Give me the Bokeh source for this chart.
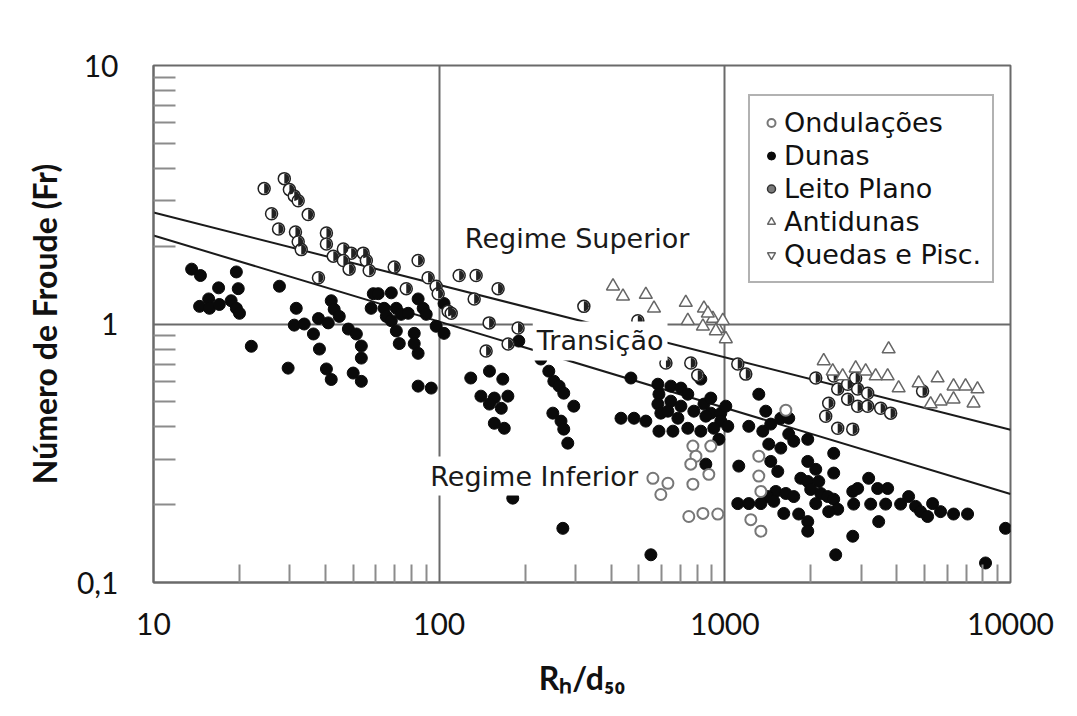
import numpy as np
from bokeh.plotting import figure
from bokeh.models import FixedTicker, Range1d, Label, Legend, LegendItem
from bokeh.embed import file_html
from bokeh.resources import INLINE

# ---------------- data ----------------
x_tick_values = [10, 100, 1000, 10000]
x_tick_labels = ["10", "100", "1000", "10000"]
y_tick_values = [0.1, 1, 10]
y_tick_labels = ["0,1", "1", "10"]
x_minor = [20, 30, 40, 50, 60, 70, 80, 90, 200, 300, 400, 500, 600, 700, 800, 900,
           2000, 3000, 4000, 5000, 6000, 7000, 8000, 9000]
y_minor = [0.2, 0.3, 0.4, 0.5, 0.6, 0.7, 0.8, 0.9, 2, 3, 4, 5, 6, 7, 8, 9]

series_names = ["Ondulações", "Dunas", "Leito Plano", "Antidunas", "Quedas e Pisc."]

ond_x = [773, 893, 792, 760, 879, 632, 597, 773, 560, 748, 838, 945, 1315, 1315, 1337, 1233, 1337, 1635]
ond_y = [0.337, 0.337, 0.308, 0.287, 0.262, 0.242, 0.219, 0.240, 0.253, 0.180, 0.185, 0.184,
         0.308, 0.258, 0.225, 0.175, 0.158, 0.464]

dun_x = [13.6, 14.6, 19.5, 16.9, 19.8, 15.6, 14.5, 15.7, 17.0, 18.7,
         19.5, 20.0, 27.6, 31.6, 31.1, 33.7, 36.3, 37.8, 40.9, 41.9,
         42.9, 44.7, 22.0, 38.1, 29.6, 40.3, 41.9, 48.1, 51.3, 53.4,
         53.4, 50.0, 53.4, 58.8, 61.2, 57.8, 64.2, 68.0, 65.3, 68.0,
         70.8, 73.6, 77.9, 70.8, 72.5, 81.8, 81.8, 84.4, 84.4, 87.9,
         90.1, 97.6, 84.4, 93.8, 104, 104, 129, 150, 167, 140,
         156, 174, 150, 165, 156, 169, 190, 227, 242, 252,
         263, 273, 296, 250, 267, 273, 282, 181, 271, 551,
         469, 433, 481, 529, 588, 658, 583, 588, 583, 597,
         647, 702, 742, 647, 702, 632, 685, 742, 824, 779,
         845, 893, 893, 968, 968, 915, 953, 858, 858, 824,
         1008, 1024, 1315, 1213, 1119, 1391, 1358, 1448, 1570, 1674,
         1674, 1743, 1951, 1425, 1570, 1448, 1532, 2405, 2405, 1951,
         2081, 1845, 1951, 2132, 1998, 2167, 2291, 2405, 2484, 2310,
         1508, 1635, 1743, 1413, 1110, 1213, 1337, 1484, 1608, 1814,
         1951, 1951, 2081, 2804, 3188, 2917, 3428, 3715, 2825, 3240,
         3656, 4124, 4399, 4654, 4845, 5126, 5337, 5691, 6319, 7075,
         3456, 2804, 2444, 9605, 8177]
dun_y = [1.63, 1.54, 1.59, 1.38, 1.37, 1.25, 1.17, 1.15, 1.19, 1.23,
         1.15, 1.10, 1.40, 1.15, 0.99, 1.00, 0.915, 1.05, 1.01, 1.23,
         1.14, 1.07, 0.82, 0.80, 0.675, 0.67, 0.61, 0.956, 0.915, 0.822,
         0.738, 0.646, 0.60, 1.31, 1.31, 1.15, 1.15, 1.32, 1.07, 1.03,
         1.15, 1.09, 1.10, 0.94, 0.84, 0.92, 0.84, 0.77, 1.25, 1.15,
         1.09, 0.98, 0.575, 0.565, 1.20, 0.92, 0.618, 0.657, 0.612, 0.526,
         0.517, 0.526, 0.49, 0.472, 0.413, 0.395, 0.859, 0.732, 0.657, 0.601,
         0.575, 0.54, 0.481, 0.452, 0.421, 0.392, 0.346, 0.212, 0.162, 0.128,
         0.618, 0.432, 0.432, 0.421, 0.385, 0.385, 0.585, 0.535, 0.49, 0.452,
         0.575, 0.565, 0.535, 0.503, 0.481, 0.46, 0.432, 0.395, 0.385, 0.46,
         0.49, 0.452, 0.517, 0.452, 0.421, 0.395, 0.358, 0.287, 0.44, 0.612,
         0.481, 0.402, 0.535, 0.402, 0.282, 0.46, 0.385, 0.41, 0.432, 0.432,
         0.375, 0.352, 0.358, 0.343, 0.331, 0.294, 0.269, 0.316, 0.265, 0.294,
         0.274, 0.253, 0.246, 0.246, 0.229, 0.221, 0.215, 0.21, 0.192, 0.188,
         0.225, 0.221, 0.215, 0.215, 0.202, 0.202, 0.202, 0.206, 0.185, 0.184,
         0.172, 0.158, 0.202, 0.225, 0.253, 0.231, 0.231, 0.231, 0.201, 0.201,
         0.201, 0.201, 0.215, 0.197, 0.188, 0.18, 0.202, 0.188, 0.184, 0.184,
         0.172, 0.151, 0.128, 0.162, 0.119]

leito_x = [28.7, 24.4, 29.9, 31.1, 32.1, 25.9, 34.8, 27.4, 31.4, 32.1,
           32.9, 40.3, 40.3, 42.6, 46.2, 49.2, 46.2, 48.4, 54.2, 55.6,
           56.9, 37.8, 69.6, 84.4, 91.5, 97.6, 76.7, 99.2, 107.5, 117.5,
           134.7, 160.8, 132.6, 110.2, 149.6, 188.9, 174.3, 146.0,
           321, 496, 622, 760, 804, 1110, 1184,
           2081, 2405, 2484, 2692, 2871, 2917, 3162,
           2310, 2255, 2692, 2917, 3162, 3512, 3806,
           2484, 2804, 4923]
leito_y = [3.65, 3.34, 3.31, 3.13, 3.00, 2.67, 2.65, 2.33, 2.27, 2.08,
           1.94, 2.25, 2.04, 1.83, 1.95, 1.88, 1.76, 1.63, 1.88, 1.76,
           1.61, 1.51, 1.66, 1.76, 1.51, 1.40, 1.37, 1.31, 1.12, 1.54,
           1.54, 1.37, 1.25, 1.10, 1.01, 0.965, 0.837, 0.786,
           1.17, 1.03, 0.706, 0.706, 0.634, 0.70, 0.64,
           0.618, 0.629, 0.56, 0.585, 0.618, 0.56, 0.54,
           0.494, 0.44, 0.512, 0.481, 0.481, 0.472, 0.452,
           0.395, 0.392, 0.55]

anti_x = [406, 440, 529, 565, 730, 845, 742, 838, 908, 945, 984, 1008, 872, 930,
          3745, 2219, 2386, 2585, 2871, 3112, 3373, 3715, 4059, 4768, 5556, 6319,
          6961, 7665, 6319, 5691, 7424, 5253]
anti_y = [1.40, 1.28, 1.30, 1.15, 1.21, 1.15, 1.03, 0.98, 1.05, 0.96, 1.03, 0.875, 1.10, 0.94,
          0.80, 0.72, 0.657, 0.629, 0.675, 0.657, 0.629, 0.629, 0.565, 0.591, 0.618, 0.575,
          0.575, 0.56, 0.512, 0.503, 0.494, 0.49]

# "Quedas e Pisc." has no observations in this chart (legend entry only)
queda_x = [np.nan]
queda_y = [np.nan]

# regime boundary lines (end points)
fit_x = [10, 10000]
upper_fit_y = [2.7, 0.39]
lower_fit_y = [2.2, 0.22]

region_labels = ["Regime Superior", "Transição", "Regime Inferior"]
region_x = [304, 366, 215]
region_y = [2.15, 0.86, 0.258]

x_title = "Rₕ/d₅₀"
y_title = "Número de Froude (Fr)"

# ---------------- figure ----------------
p = figure(width=1077, height=716, x_axis_type="log", y_axis_type="log",
           x_range=Range1d(10, 10000), y_range=Range1d(0.1, 10),
           output_backend="svg", toolbar_location=None,
           min_border_left=153, min_border_right=67, min_border_top=65, min_border_bottom=134)
p.background_fill_color = "white"
p.border_fill_color = "white"
p.outline_line_color = "#6a6a6a"
p.outline_line_width = 2

p.xaxis.ticker = FixedTicker(ticks=x_tick_values, minor_ticks=x_minor)
p.yaxis.ticker = FixedTicker(ticks=y_tick_values, minor_ticks=y_minor)
p.xaxis.major_label_overrides = dict(zip(x_tick_values, x_tick_labels))
p.yaxis.major_label_overrides = dict(zip(y_tick_values, y_tick_labels))

for ax in (p.xaxis[0], p.yaxis[0]):
    ax.axis_line_color = "#6a6a6a"
    ax.axis_line_width = 2
    ax.major_tick_in = 0
    ax.major_tick_out = 0
    ax.minor_tick_out = 0
    ax.minor_tick_line_color = "#8c8c8c"
    ax.minor_tick_line_width = 2
    ax.major_label_text_font = "Lato"
    ax.major_label_text_font_size = "30px"
    ax.major_label_text_color = "#111111"
    ax.axis_label_text_font = "Lato"
    ax.axis_label_text_font_style = "bold"
    ax.axis_label_text_font_size = "32px"
    ax.axis_label_text_color = "#111111"
p.xaxis.minor_tick_in = 18
p.yaxis.minor_tick_in = 22
p.xaxis.major_label_standoff = 30
p.yaxis.major_label_standoff = 35

p.yaxis.axis_label = y_title
p.yaxis.axis_label_standoff = 10
p.xaxis.axis_label = x_title
p.xaxis.axis_label_standoff = 20

p.xgrid.ticker = FixedTicker(ticks=[100, 1000])
p.ygrid.ticker = FixedTicker(ticks=[1])
p.grid.grid_line_color = "#6a6a6a"
p.grid.grid_line_width = 2
p.grid.minor_grid_line_color = None

# boundary lines
p.line(fit_x, upper_fit_y, line_color="#1a1a1a", line_width=2)
p.line(fit_x, lower_fit_y, line_color="#1a1a1a", line_width=2)

# points
r_dun = p.scatter(dun_x, dun_y, marker="circle", size=12, fill_color="#0a0a0a", line_color="#0a0a0a")
r_ond = p.scatter(ond_x, ond_y, marker="circle", size=11, fill_color="white", line_color="#777777", line_width=2)
r_leito = p.scatter(leito_x, leito_y, marker="circle", size=12, fill_color="white", line_color="#222222", line_width=1.5)
p.wedge(leito_x, leito_y, radius=5, radius_units="screen", start_angle=-np.pi / 2, end_angle=np.pi / 2,
        fill_color="#222222", line_color=None)
r_leito_leg = p.scatter(queda_x, queda_y, marker="circle", size=12, fill_color="#7a7a7a",
                        line_color="#333333", line_width=1.5)
r_anti = p.scatter(anti_x, anti_y, marker="triangle", size=13, fill_color="white", line_color="#666666", line_width=1.5)
r_queda = p.scatter(queda_x, queda_y, marker="inverted_triangle", size=12, fill_color="white",
                    line_color="#666666", line_width=1.5)

# region labels
for txt, lx, ly in zip(region_labels, region_x, region_y):
    p.add_layout(Label(x=lx, y=ly, text=txt, text_align="center", text_baseline="middle",
                       text_font="DejaVu Sans", text_font_size="27px", text_color="#1a1a1a",
                       background_fill_color="white", padding=4))

# legend
legend = Legend(items=[LegendItem(label=series_names[0], renderers=[r_ond]),
                       LegendItem(label=series_names[1], renderers=[r_dun]),
                       LegendItem(label=series_names[2], renderers=[r_leito_leg]),
                       LegendItem(label=series_names[3], renderers=[r_anti]),
                       LegendItem(label=series_names[4], renderers=[r_queda])],
                location=(595, 299))
legend.label_text_font = "DejaVu Sans"
legend.label_text_font_size = "27px"
legend.label_text_color = "#111111"
legend.glyph_width = 20
legend.glyph_height = 31
legend.label_height = 31
legend.spacing = 2
legend.padding = 11
legend.label_standoff = 3
legend.margin = 0
legend.border_line_color = "#666666"
legend.border_line_width = 2
legend.background_fill_color = "white"
legend.background_fill_alpha = 1
p.add_layout(legend)

open("out.html", "w").write(file_html(p, INLINE))
